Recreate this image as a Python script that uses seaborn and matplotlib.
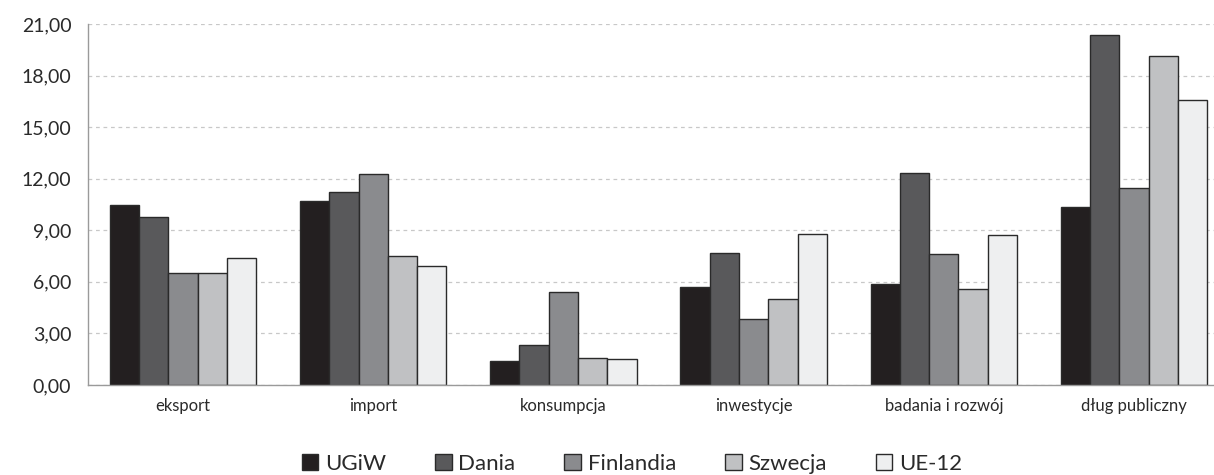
import matplotlib
matplotlib.use("Agg")
import matplotlib.pyplot as plt
from matplotlib.ticker import FixedLocator, FuncFormatter
import seaborn as sns
import pandas as pd
import numpy as np

categories = ["eksport", "import", "konsumpcja", "inwestycje", "badania i rozwój", "dług publiczny"]
series_names = ["UGiW", "Dania", "Finlandia", "Szwecja", "UE-12"]
ugiw = [10.47, 10.72, 1.40, 5.72, 5.89, 10.37]
dania = [9.79, 11.25, 2.33, 7.70, 12.35, 20.38]
finlandia = [6.50, 12.26, 5.41, 3.82, 7.60, 11.44]
szwecja = [6.50, 7.52, 1.55, 5.02, 5.58, 19.12]
ue12 = [7.37, 6.92, 1.49, 8.80, 8.74, 16.58]
y_ticks = [0, 3, 6, 9, 12, 15, 18, 21]

colors = ["#231f20", "#59595b", "#8a8b8e", "#c0c1c3", "#eeeff0"]

rows = []
for name, vals in zip(series_names, [ugiw, dania, finlandia, szwecja, ue12]):
    for cat, v in zip(categories, vals):
        rows.append({"kategoria": cat, "kraj": name, "wartość": v})
df = pd.DataFrame(rows)

sns.set_style("white")
plt.rcParams["font.family"] = ["Lato", "DejaVu Sans"]

fig = plt.figure(figsize=(12.14, 4.75), dpi=100)
ax = fig.add_axes([88 / 1214, 1 - 385 / 475, (1229 - 88) / 1214, (385 - 24) / 475])

sns.barplot(data=df, x="kategoria", y="wartość", hue="kraj", order=categories,
            hue_order=series_names, palette=colors, width=0.77, dodge=True,
            edgecolor="#2a2a2a", linewidth=1.0, saturation=1, ax=ax, legend=True)

ax.set_xlim(-0.5, len(categories) - 0.5)
ax.set_ylim(0, 21)
ax.set_yticks(y_ticks)
ax.yaxis.set_major_formatter(FuncFormatter(lambda v, p: f"{v:.2f}".replace(".", ",")))
ax.grid(axis="y", color="#c8c8c8", linestyle=(0, (3, 3)), linewidth=0.9)
ax.set_axisbelow(True)

for s in ["top", "right"]:
    ax.spines[s].set_visible(False)
for s in ["left", "bottom"]:
    ax.spines[s].set_color("#9a9a9a")
    ax.spines[s].set_linewidth(1.0)

ax.set_xlabel("")
ax.set_ylabel("")
ax.tick_params(axis="x", which="major", length=0, pad=9, labelsize=12, labelcolor="#2a2a2a")
ax.xaxis.set_minor_locator(FixedLocator(np.arange(-0.5, len(categories), 1.0)))
ax.tick_params(axis="x", which="minor", length=6, color="#9a9a9a", width=1.0)
ax.tick_params(axis="y", length=7, color="#9a9a9a", width=1.0, labelsize=14,
               labelcolor="#2a2a2a", pad=5)

leg = ax.get_legend()
handles, labels = ax.get_legend_handles_labels()
leg.remove()
fig.legend(handles, labels, loc="center", bbox_to_anchor=(632 / 1214, 1 - 464 / 475),
           ncol=5, frameon=False, fontsize=16, handlelength=0.75, handleheight=0.75,
           handletextpad=0.3, columnspacing=2.2, labelcolor="#2a2a2a", borderpad=0.1)

fig.savefig("out.png", dpi=100)
